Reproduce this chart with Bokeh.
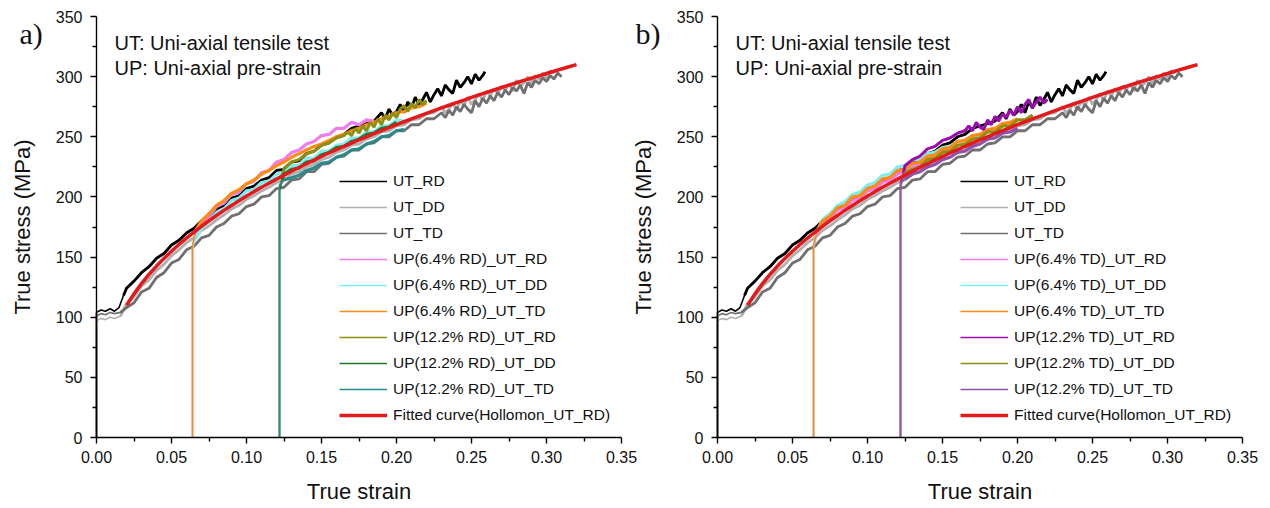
import math
from bokeh.plotting import figure
from bokeh.models import (Range1d, FixedTicker, NumeralTickFormatter,
                          Legend, LegendItem, Label)
from bokeh.layouts import row
from bokeh.embed import file_html
from bokeh.resources import INLINE

# ---------------- data ----------------
GRID = [0.020, 0.025, 0.030, 0.035, 0.040, 0.045, 0.050, 0.055, 0.060, 0.065,
        0.070, 0.075, 0.080, 0.085, 0.090, 0.095, 0.100, 0.105, 0.110, 0.115,
        0.120, 0.125, 0.130, 0.135, 0.140, 0.145, 0.150, 0.155, 0.160, 0.165,
        0.170, 0.175, 0.180, 0.185, 0.190, 0.195, 0.200, 0.205, 0.210, 0.215,
        0.220, 0.225, 0.230, 0.235, 0.240, 0.245, 0.250, 0.255, 0.260, 0.265,
        0.270, 0.275, 0.280, 0.285, 0.290, 0.295, 0.300, 0.305, 0.310, 0.315,
        0.320]
# finer strain sampling where the noisy tails of the curves are visible
FINE = [0.1675, 0.1700, 0.1725, 0.1750, 0.1775, 0.1800, 0.1825, 0.1850, 0.1875, 0.1900,
        0.1925, 0.1950, 0.1975, 0.2000, 0.2025, 0.2050, 0.2075, 0.2100, 0.2125, 0.2150,
        0.2175, 0.2200, 0.2225, 0.2250, 0.2275, 0.2300, 0.2325, 0.2350, 0.2375, 0.2400,
        0.2425, 0.2450, 0.2475, 0.2500, 0.2525, 0.2550, 0.2575, 0.2600, 0.2625, 0.2650,
        0.2675, 0.2700, 0.2725, 0.2750, 0.2775, 0.2800, 0.2825, 0.2850, 0.2875, 0.2900,
        0.2925, 0.2950, 0.2975, 0.3000, 0.3025, 0.3050, 0.3075, 0.3100]


def seg(a, b, grid=GRID):
    return [g for g in grid if a - 1e-9 <= g <= b + 1e-9]


x_ticks = [0.00, 0.05, 0.10, 0.15, 0.20, 0.25, 0.30, 0.35]
x_minor = [0.025, 0.075, 0.125, 0.175, 0.225, 0.275, 0.325]
y_ticks = [0, 50, 100, 150, 200, 250, 300, 350]
y_minor = [25, 75, 125, 175, 225, 275, 325]

# Uni-axial tensile tests (same in both panels)
ut_rd_x = ([0.000, 0.000, 0.003, 0.006, 0.009, 0.012, 0.015, 0.018] + seg(0.020, 0.185)
           + seg(0.190, 0.2575, FINE) + [0.259])
ut_rd_y = [0, 104, 106, 105, 107, 105, 108, 118,
           124, 130, 137, 142, 149, 153, 160, 164, 170, 174,
           180, 184, 190, 193, 199, 201, 207, 209, 214, 216,
           222, 223, 229, 230, 236, 238, 243, 245, 250, 252,
           257, 259, 261, 263,
           270, 265, 273, 268, 271, 277, 270, 279, 274, 283,
           276, 281, 287, 279, 285, 290, 284, 293, 289, 286,
           297, 291, 295, 300, 294, 302, 297, 301,
           304]

ut_dd_x = [0.000, 0.000, 0.003, 0.006, 0.009, 0.012, 0.016] + seg(0.020, 0.225) + seg(0.230, 0.305, FINE)
ut_dd_y = [0, 97, 99, 98, 100, 99, 101,
           111, 117, 126, 131, 139, 144, 151, 156, 162, 166,
           172, 176, 181, 185, 190, 193, 198, 201, 205, 208,
           212, 214, 219, 221, 225, 227, 231, 233, 237, 239,
           243, 244, 248, 250, 254, 255, 259, 260, 264, 265,
           269, 270,
           275, 270, 273, 278, 272, 280, 276, 283, 277, 281,
           286, 280, 288, 284, 290, 286, 292, 289, 294, 288,
           297, 292, 295, 300, 294, 301, 298, 303, 299, 305,
           303]

ut_td_x = [0.000, 0.000, 0.003, 0.006, 0.009, 0.012, 0.016] + seg(0.020, 0.225) + seg(0.230, 0.310, FINE)
ut_td_y = [0, 101, 103, 102, 104, 103, 104,
           108, 112, 121, 124, 133, 137, 145, 148, 156, 159,
           166, 168, 175, 178, 184, 186, 192, 194, 200, 201,
           207, 208, 214, 215, 221, 221, 227, 228, 233, 234,
           239, 239, 244, 245, 250, 250, 255, 255, 260, 260,
           265, 265,
           270, 266, 272, 268, 275, 271, 277, 273, 270, 280,
           275, 282, 278, 284, 280, 287, 283, 289, 285, 291,
           288, 293, 286, 295, 291, 297, 294, 299, 296, 301,
           298, 303, 300]

# Hollomon fit of UT_RD
fit_x = GRID
fit_y = [110.0, 119.4, 127.9, 135.6, 142.5, 148.9, 154.9, 160.5, 165.8, 170.8,
         175.6, 180.2, 184.6, 188.8, 192.9, 196.9, 200.7, 204.4, 208.0, 211.4,
         214.8, 218.1, 221.4, 224.5, 227.6, 230.6, 233.6, 236.5, 239.3, 242.0,
         244.8, 247.4, 250.0, 252.6, 255.2, 257.6, 260.1, 262.5, 264.9, 267.2,
         269.5, 271.8, 274.0, 276.2, 278.4, 280.5, 282.7, 284.8, 286.9, 288.9,
         291.0, 292.9, 294.9, 296.9, 298.8, 300.7, 302.6, 304.5, 306.4, 308.2,
         310.0]

# Panel a: pre-strain along RD
a_pink_x = [0.064, 0.064, 0.066] + seg(0.070, 0.185)
a_pink_y = [0, 156, 168,
            178, 184, 192, 195, 202, 204, 211, 213, 220, 222,
            229, 231, 237, 239, 244, 246, 251, 252, 257, 257,
            262, 260, 264, 263]
a_cyan_x = [0.064, 0.064, 0.066] + seg(0.070, 0.205)
a_cyan_y = [0, 158, 165,
            174, 180, 187, 190, 197, 199, 205, 206, 212, 213,
            219, 220, 226, 226, 232, 232, 238, 238, 243, 244,
            249, 249, 254, 254, 259, 259, 264, 263]
a_orange_x = [0.064, 0.064, 0.066] + seg(0.070, 0.220)
a_orange_y = [0, 160, 172,
              180, 186, 193, 197, 203, 206, 211, 214, 219, 222,
              226, 229, 233, 236, 239, 242, 244, 247, 250, 252,
              255, 257, 260, 262, 265, 267, 270, 271, 274, 275,
              278]
a_olive_x = [0.122, 0.122, 0.124] + seg(0.125, 0.165) + seg(0.1675, 0.220, FINE)
a_olive_y = [0, 208, 218,
             224, 229, 231, 236, 238, 243, 245, 249, 251,
             254, 251, 257, 253, 259, 255, 262, 258, 265, 260,
             268, 264, 270, 266, 273, 276, 271, 278, 274, 281,
             277, 280]
a_green_x = [0.122, 0.122, 0.124] + seg(0.125, 0.200)
a_green_y = [0, 205, 214,
             219, 223, 224, 229, 230, 235, 237, 241, 242, 246,
             248, 252, 253, 257, 258, 262]
a_teal_x = [0.122, 0.122, 0.125] + seg(0.130, 0.205)
a_teal_y = [0, 210, 214,
            216, 218, 222, 224, 228, 229, 233, 235, 239, 240,
            244, 246, 250, 251, 255, 256]

# Panel b: pre-strain along TD
b_pink_x = [0.064, 0.064, 0.066] + seg(0.070, 0.160)
b_pink_y = [0, 156, 168,
            178, 182, 189, 191, 197, 199, 205, 207, 212, 214,
            219, 221, 226, 227, 232, 233, 238, 239, 243]
b_cyan_x = [0.064, 0.064, 0.066] + seg(0.070, 0.180)
b_cyan_y = [0, 158, 170,
            181, 186, 193, 196, 202, 204, 210, 212, 218, 219,
            225, 226, 231, 231, 236, 237, 241, 242, 246, 247,
            251, 251, 255]
b_orange_x = [0.064, 0.064, 0.066] + seg(0.070, 0.200)
b_orange_y = [0, 160, 170,
              180, 184, 191, 193, 200, 201, 207, 209, 215, 216,
              222, 223, 228, 229, 234, 235, 240, 241, 246, 247,
              251, 252, 256, 257, 261, 262, 265]
b_purple_x = [0.122, 0.122, 0.124] + seg(0.125, 0.165) + seg(0.1675, 0.220, FINE)
b_purple_y = [0, 212, 220,
              226, 231, 234, 240, 242, 247, 249, 253, 255,
              259, 255, 262, 258, 256, 264, 260, 267, 263, 269,
              266, 272, 268, 275, 270, 277, 281, 274, 279, 283,
              278, 281]
b_olive_x = [0.122, 0.122, 0.124] + seg(0.125, 0.210)
b_olive_y = [0, 208, 216,
             220, 223, 225, 231, 232, 237, 238, 243, 244, 248,
             249, 254, 254, 259, 259, 264, 264, 268]
b_violet_x = [0.122, 0.122, 0.125] + seg(0.130, 0.200)
b_violet_y = [0, 212, 215,
              219, 221, 225, 227, 231, 233, 237, 238, 242, 244,
              248, 249, 253, 254, 257]

ut_curves = [
    ("UT_RD", ut_rd_x, ut_rd_y, "#000000", 7, 2.8),
    ("UT_DD", ut_dd_x, ut_dd_y, "#b0b0b0", 6, 2.8),
    ("UT_TD", ut_td_x, ut_td_y, "#707070", 6, 2.8),
]
a_curves = [
    ("UP(6.4% RD)_UT_RD", a_pink_x, a_pink_y, "#f07cf0", 2, 3.2),
    ("UP(6.4% RD)_UT_DD", a_cyan_x, a_cyan_y, "#7ceeee", 2, 3.2),
    ("UP(6.4% RD)_UT_TD", a_orange_x, a_orange_y, "#ff8a14", 2, 3.2),
    ("UP(12.2% RD)_UT_RD", a_olive_x, a_olive_y, "#8e8e12", 2, 3.0),
    ("UP(12.2% RD)_UT_DD", a_green_x, a_green_y, "#1f7a2a", 2, 3.2),
    ("UP(12.2% RD)_UT_TD", a_teal_x, a_teal_y, "#2a8a8a", 2, 3.2),
]
b_curves = [
    ("UP(6.4% TD)_UT_RD", b_pink_x, b_pink_y, "#f07cf0", 2, 3.2),
    ("UP(6.4% TD)_UT_DD", b_cyan_x, b_cyan_y, "#7ceeee", 2, 3.2),
    ("UP(6.4% TD)_UT_TD", b_orange_x, b_orange_y, "#ff8a14", 2, 3.2),
    ("UP(12.2% TD)_UT_RD", b_purple_x, b_purple_y, "#9a0cae", 2, 3.0),
    ("UP(12.2% TD)_UT_DD", b_olive_x, b_olive_y, "#8e8e12", 2, 3.2),
    ("UP(12.2% TD)_UT_TD", b_violet_x, b_violet_y, "#9050b0", 2, 3.2),
]
fit_label = "Fitted curve(Hollomon_UT_RD)"
note_lines = ["UT: Uni-axial tensile test", "UP: Uni-axial pre-strain"]
x_title = "True strain"
y_title = "True stress (MPa)"

FONT = "Liberation Sans"
PX_PER_STRAIN = 1500.0          # 0.05 strain -> 75 px
H = 508
ZERO_PX, TOP_PX = 437, 16       # pixel rows of 0 MPa and 350 MPa
PX_PER_MPA = (ZERO_PX - TOP_PX) / 350.0
Y0 = -(H - ZERO_PX) / PX_PER_MPA
Y1 = 350 + TOP_PX / PX_PER_MPA
TXT = "#111111"


def make_panel(pre_curves, width, axis_px, letter):
    # the frame covers the whole figure; axes sit at strain 0 / stress 0
    x0 = -axis_px / PX_PER_STRAIN
    x1 = (width - axis_px) / PX_PER_STRAIN
    p = figure(width=width, height=H, x_range=Range1d(x0, x1), y_range=Range1d(Y0, Y1),
               output_backend="svg", toolbar_location=None,
               min_border_left=0, min_border_right=0,
               min_border_top=0, min_border_bottom=0)
    p.grid.visible = False
    p.outline_line_color = None
    p.background_fill_alpha = 0
    p.border_fill_alpha = 0

    p.yaxis.fixed_location = 0
    p.xaxis.fixed_location = 0
    p.xaxis.bounds = (0, 0.35)
    p.yaxis.bounds = (0, 350)
    p.xaxis.ticker = FixedTicker(ticks=x_ticks, minor_ticks=x_minor)
    p.yaxis.ticker = FixedTicker(ticks=y_ticks, minor_ticks=y_minor)
    p.xaxis.formatter = NumeralTickFormatter(format="0.00")
    for ax in (p.xaxis, p.yaxis):
        ax.axis_line_width = 1.4
        ax.axis_line_color = "black"
        ax.major_tick_in = 0
        ax.major_tick_out = 6
        ax.minor_tick_in = 0
        ax.minor_tick_out = 4
        ax.major_tick_line_width = 1.4
        ax.minor_tick_line_width = 1.4
        ax.major_tick_line_color = "black"
        ax.minor_tick_line_color = "black"
        ax.major_label_text_font = FONT
        ax.major_label_text_font_size = "16px"
        ax.major_label_text_color = TXT
    p.xaxis.major_label_standoff = 7
    p.yaxis.major_label_standoff = 8

    items = []
    for label, xs, ys, color, k, w in ut_curves + pre_curves:
        r = p.line(xs, ys, line_color=color, line_width=1.6)
        p.line(xs[k:], ys[k:], line_color=color, line_width=w)
        items.append(LegendItem(label=label, renderers=[r]))
    rf = p.line(fit_x, fit_y, line_color="#e3191c", line_width=3.5)
    items.append(LegendItem(label=fit_label, renderers=[rf]))

    legend = Legend(items=items, location=(axis_px + 243, H - 425), glyph_width=48,
                    glyph_height=20, label_height=20, spacing=6, label_standoff=6,
                    padding=0, margin=0, border_line_color=None, background_fill_alpha=0,
                    label_text_font=FONT, label_text_font_size="15.5px",
                    label_text_color=TXT)
    p.add_layout(legend)

    # axis titles
    p.add_layout(Label(x=0.175, y=(ZERO_PX - 491) / PX_PER_MPA, text=x_title,
                       text_font=FONT, text_font_size="22px", text_align="center",
                       text_baseline="middle", text_color=TXT))
    p.add_layout(Label(x=-74 / PX_PER_STRAIN, y=175, text=y_title, angle=math.pi / 2,
                       text_font=FONT, text_font_size="22px", text_align="center",
                       text_baseline="middle", text_color=TXT))
    # notes
    p.add_layout(Label(x=0.012, y=328, text=note_lines[0], text_font=FONT,
                       text_font_size="20px", text_baseline="middle", text_color=TXT))
    p.add_layout(Label(x=0.012, y=307.5, text=note_lines[1], text_font=FONT,
                       text_font_size="20px", text_baseline="middle", text_color=TXT))
    # panel letter, left of the stress axis
    p.add_layout(Label(x=-(axis_px - 19) / PX_PER_STRAIN, y=336, text=letter,
                       text_font="Liberation Serif", text_font_size="30px",
                       text_baseline="middle", text_color=TXT))
    return p


p1 = make_panel(a_curves, 640, 96, "a)")
p2 = make_panel(b_curves, 654, 101, "b)")
p2.styles = {"margin-left": "-24px"}

layout = row(p1, p2)

open("out.html", "w").write(file_html(layout, INLINE))
